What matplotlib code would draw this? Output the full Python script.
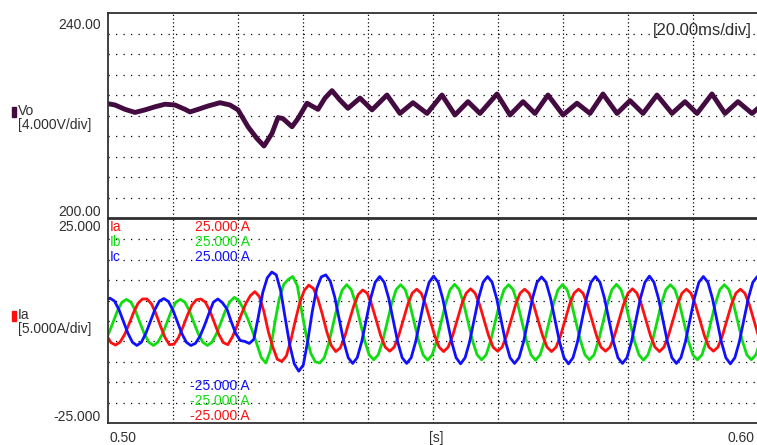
import numpy as np
import matplotlib.pyplot as plt

plt.rcParams['font.family'] = ['Liberation Sans', 'DejaVu Sans']

# Vo trace, vertices (time in s, volts)
vo_t = [0.5, 0.50108, 0.50262, 0.50415, 0.50569, 0.50723, 0.50877, 0.51031, 0.51185, 0.51262,
        0.51385, 0.51538, 0.51723, 0.51877, 0.52, 0.52154, 0.52292, 0.524, 0.52523, 0.52615,
        0.52692, 0.52831, 0.52923, 0.53062, 0.53138, 0.53231, 0.53338, 0.53446, 0.53569, 0.53692,
        0.53877, 0.54062, 0.54292, 0.54492, 0.54692, 0.54908, 0.55138, 0.55338, 0.55538, 0.55723,
        0.55985, 0.56185, 0.56385, 0.56569, 0.56769, 0.57, 0.57215, 0.57415, 0.57615, 0.57831,
        0.58031, 0.58231, 0.58446, 0.58677, 0.58877, 0.59062, 0.59292, 0.59492, 0.59692, 0.59908,
        0.6]
vo_v = [222.3, 222.05, 221.2, 220.6, 221.1, 221.7, 222.2, 222.05, 221.2, 220.7,
        221.2, 221.85, 222.5, 222.05, 221.1, 217.8, 215.5, 214.05, 216.5, 219.6,
        219.4, 217.8, 219.4, 222.4, 221.85, 221.2, 223.4, 224.85, 223.0, 221.4,
        223.4, 221.1, 224.0, 220.4, 222.5, 220.4, 224.0, 220.1, 222.7, 220.4,
        224.2, 220.1, 222.7, 220.4, 224.0, 220.1, 222.4, 220.4, 224.2, 220.4,
        222.9, 220.4, 224.0, 220.4, 222.7, 220.4, 224.2, 220.4, 222.7, 220.4,
        221.4]

# phase currents (A), one sample every 1/12 of a period, each trace with its own start time
sample_dt = 0.0083 / 12
ia_start = 0.499765
ib_start = 0.499377
ic_start = 0.499606

ia = [-3.5, -5.3, -5.9, -5.2, -3.4, -0.8, 2.0, 4.3, 5.4, 5.4, 4.2, 1.8,
      -1.2, -4.0, -5.8, -5.7, -4.1, -1.5, 1.4, 3.9, 5.2, 5.4, 4.6, 2.5,
      -0.4, -3.3, -5.3, -5.8, -3.9, -1.3, 1.6, 4.3, 6.2, 7.2, 6.0, 2.4,
      -2.6, -6.4, -9.4, -9.9, -8.6, -4.8, 0.1, 4.5, 7.5, 8.8, 8.0, 5.5,
      1.7, -2.6, -6.0, -7.5, -6.6, -3.8, 0.0, 3.7, 6.5, 7.6, 6.8, 4.0,
      0.2, -3.6, -6.4, -7.4, -6.4, -3.6, 0.2, 4.0, 6.8, 7.8, 6.8, 4.0,
      0.2, -3.6, -6.4, -7.5, -6.4, -3.6, 0.2, 4.0, 6.8, 7.9, 6.8, 4.0,
      0.2, -3.6, -6.4, -7.4, -6.4, -3.6, 0.2, 4.0, 6.8, 7.8, 6.8, 4.0,
      0.2, -3.6, -6.4, -7.5, -6.4, -3.6, 0.2, 4.0, 6.8, 7.8, 6.8, 4.0,
      0.2, -3.6, -6.4, -7.4, -6.4, -3.6, 0.2, 4.0, 6.8, 7.9, 6.8, 4.0,
      0.2, -3.6, -6.4, -7.5, -6.4, -3.6, 0.2, 4.0, 6.8, 7.8, 6.8, 4.0,
      0.2, -3.6, -6.4, -7.4, -6.4, -3.6, 0.2, 4.0, 6.8, 7.8, 6.8, 4.0,
      0.2, -3.6, -6.4]

ib = [-5.2, -3.2, -0.4, 2.5, 4.6, 5.3, 4.6, 2.5, -0.4, -3.2, -5.2, -6.0,
      -5.2, -3.2, -0.4, 2.5, 4.6, 5.3, 4.6, 2.5, -0.4, -3.2, -5.2, -6.0,
      -5.2, -3.2, -0.4, 2.5, 4.7, 5.8, 5.0, 3.0, 0.5, -2.4, -5.6, -9.0,
      -10.3, -7.3, -0.5, 5.5, 9.0, 10.2, 10.9, 8.7, 2.3, -3.6, -7.9, -10.0,
      -10.3, -9.0, -5.5, -0.7, 4.1, 7.6, 8.9, 7.7, 4.3, -0.3, -4.9, -8.3,
      -9.5, -8.3, -4.9, -0.3, 4.3, 7.7, 8.9, 7.7, 4.3, -0.3, -4.9, -8.3,
      -9.6, -8.3, -4.9, -0.3, 4.3, 7.7, 9.0, 7.7, 4.3, -0.3, -4.9, -8.3,
      -9.5, -8.3, -4.9, -0.3, 4.3, 7.7, 8.9, 7.7, 4.3, -0.3, -4.9, -8.3,
      -9.6, -8.3, -4.9, -0.3, 4.3, 7.7, 8.9, 7.7, 4.3, -0.3, -4.9, -8.3,
      -9.5, -8.3, -4.9, -0.3, 4.3, 7.7, 9.0, 7.7, 4.3, -0.3, -4.9, -8.3,
      -9.6, -8.3, -4.9, -0.3, 4.3, 7.7, 8.9, 7.7, 4.3, -0.3, -4.9, -8.3,
      -9.5, -8.3, -4.9, -0.3, 4.3, 7.7, 8.9, 7.7, 4.3, -0.3, -4.9, -8.3,
      -9.5, -8.3, -4.9]

ic = [5.0, 5.6, 4.9, 2.8, -0.1, -3.0, -5.2, -6.0, -5.2, -3.0, -0.1, 2.8,
      4.9, 5.5, 4.8, 2.7, -0.2, -3.1, -5.2, -6.0, -5.5, -3.8, -1.2, 1.8,
      4.6, 5.4, 4.5, 3.0, -0.2, -3.1, -4.8, -5.0, -5.5, -4.5, 1.0, 7.0,
      10.6, 12.0, 11.3, 7.3, 0.6, -5.9, -10.5, -12.3, -10.8, -4.9, 2.3, 8.0,
      10.8, 11.3, 9.8, 5.9, 0.4, -5.0, -9.0, -10.4, -9.0, -5.1, 0.3, 5.6,
      9.5, 10.9, 9.5, 5.6, 0.3, -5.1, -9.0, -10.4, -9.0, -5.1, 0.3, 5.6,
      9.5, 11.0, 9.5, 5.6, 0.3, -5.1, -9.0, -10.5, -9.0, -5.1, 0.3, 5.6,
      9.5, 10.9, 9.5, 5.6, 0.3, -5.1, -9.0, -10.4, -9.0, -5.1, 0.3, 5.6,
      9.5, 10.8, 9.5, 5.6, 0.3, -5.1, -9.0, -10.5, -9.0, -5.1, 0.3, 5.6,
      9.5, 10.9, 9.5, 5.6, 0.3, -5.1, -9.0, -10.4, -9.0, -5.1, 0.3, 5.6,
      9.5, 11.0, 9.5, 5.6, 0.3, -5.1, -9.0, -10.4, -9.0, -5.1, 0.3, 5.6,
      9.5, 10.9, 9.5, 5.6, 0.3, -5.1, -9.0, -10.5, -9.0, -5.1, 0.3, 5.6,
      9.5, 10.9, 9.5]

t_range = (0.50, 0.60)
v_range = (200.0, 240.0)
i_range = (-25.0, 25.0)

VO_COL = '#430b40'
RED, GREEN, BLUE = '#ff1010', '#10dd10', '#1010ff'
TXT = '#303030'

W, H = 757, 445


def box(x0, y0, x1, y1):
    # pixel box measured from the top-left corner -> figure fraction
    return [x0 / W, 1 - y1 / H, (x1 - x0) / W, (y1 - y0) / H]


fig = plt.figure(figsize=(W / 100, H / 100), dpi=100)


def label(x, y, s, **kw):
    kw.setdefault('color', TXT)
    kw.setdefault('fontsize', 10)
    fig.text(x / W, 1 - y / H, s, va='center', **kw)


ax_v = fig.add_axes(box(108, 13, 758, 218))
ax_i = fig.add_axes(box(108, 219, 758, 423))

for ax in (ax_v, ax_i):
    ax.set_xlim(*t_range)
    ax.set_xticks(np.arange(0.51, 0.595, 0.01))
    ax.tick_params(length=0, labelleft=False, labelbottom=False)
    ax.xaxis.grid(True, color='black', lw=0.9, ls=(0, (1, 2.0)))
    ax.yaxis.grid(True, color='black', lw=0.9, ls=(0, (1, 5.0)))
    ax.set_axisbelow(True)
    ax.spines['right'].set_visible(False)
    for s in ('left', 'top', 'bottom'):
        ax.spines[s].set_color(TXT)
        ax.spines[s].set_linewidth(1.3)

ax_v.set_ylim(*v_range)
ax_v.set_yticks(np.arange(204, 237, 4))
ax_i.set_ylim(*i_range)
ax_i.set_yticks(np.arange(-20, 21, 5))

ax_v.plot(vo_t, vo_v, color=VO_COL, lw=3.5, solid_joinstyle='round')

ax_i.plot(ib_start + sample_dt * np.arange(len(ib)), ib, color=GREEN, lw=2.0)
ax_i.plot(ia_start + sample_dt * np.arange(len(ia)), ia, color=RED, lw=2.0)
ax_i.plot(ic_start + sample_dt * np.arange(len(ic)), ic, color=BLUE, lw=2.0)

# scale labels on the left
label(101, 25, '240.00', ha='right')
label(101, 212, '200.00', ha='right')
label(101, 227, '25.000', ha='right')
label(101, 417, '-25.000', ha='right')

fig.patches.append(plt.Rectangle((12 / W, 1 - 117 / H), 4 / W, 10 / H,
                                 transform=fig.transFigure, color=VO_COL))
label(18, 111, 'Vo', ha='left')
label(18, 125, '[4.000V/div]', ha='left')

fig.patches.append(plt.Rectangle((12 / W, 1 - 321 / H), 4 / W, 10 / H,
                                 transform=fig.transFigure, color=RED))
label(18, 315, 'Ia', ha='left')
label(18, 329, '[5.000A/div]', ha='left')

# time axis
label(110, 438, '0.50', ha='left')
label(436, 438, '[s]', ha='center')
label(755, 438, '0.60', ha='right')
label(752, 31, '[20.00ms/div]', ha='right', fontsize=12)

# channel readouts inside the current panel
for name, col, y in (('Ia', RED, 227), ('Ib', GREEN, 242), ('Ic', BLUE, 257)):
    label(110, y, name, ha='left', color=col)
    label(250, y, '25.000 A', ha='right', color=col)
for col, y in ((BLUE, 386), (GREEN, 401), (RED, 416)):
    label(250, y, '-25.000 A', ha='right', color=col)

fig.savefig('out.png', dpi=100)
